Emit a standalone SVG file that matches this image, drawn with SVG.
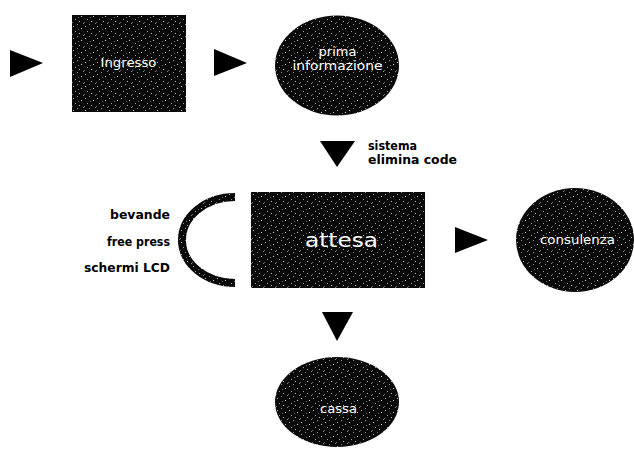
<svg xmlns="http://www.w3.org/2000/svg" width="634" height="455" viewBox="0 0 634 455">
<defs>
<pattern id="speckle" width="12" height="12" patternUnits="userSpaceOnUse">
<rect width="12" height="12" fill="#0a0a0a"/>
<rect x="1" y="2" width="1" height="1" fill="#fff" opacity="0.7"/>
<rect x="5" y="0" width="1" height="1" fill="#fff" opacity="0.5"/>
<rect x="9" y="4" width="1" height="1" fill="#fff" opacity="0.8"/>
<rect x="3" y="7" width="1" height="1" fill="#fff" opacity="0.6"/>
<rect x="7" y="9" width="1" height="1" fill="#fff" opacity="0.7"/>
<rect x="11" y="11" width="1" height="1" fill="#fff" opacity="0.5"/>
<rect x="0" y="10" width="1" height="1" fill="#fff" opacity="0.4"/>
<rect x="6" y="5" width="1" height="1" fill="#fff" opacity="0.4"/>
</pattern>
</defs>
<style>
.node{fill:url(#speckle);}
.lbl{font-family:"DejaVu Sans",sans-serif;fill:#fff;text-anchor:middle;}
.side{font-family:"DejaVu Sans",sans-serif;font-weight:bold;font-size:11.5px;fill:#000;}
.arrow{fill:#000;}
</style>
<rect width="634" height="455" fill="#fff"/>
<g id="connectors">
<polygon class="arrow" points="10,50 43,63 10,77"/>
<polygon class="arrow" points="214,49 247,63 214,76"/>
<polygon class="arrow" points="320,141 355,141 337,167"/>
<polygon class="arrow" points="455,227 488,240 455,253"/>
<polygon class="arrow" points="322,312 353,312 337,341"/>
</g>
<g id="ingresso">
<rect class="node" x="72" y="15" width="114" height="97"/>
<text class="lbl" x="128.5" y="67" font-size="12" textLength="56" lengthAdjust="spacingAndGlyphs">Ingresso</text>
</g>
<g id="prima-informazione">
<ellipse class="node" cx="337" cy="65.5" rx="62" ry="50"/>
<text class="lbl" x="337.5" y="56" font-size="12" textLength="38" lengthAdjust="spacingAndGlyphs">prima</text>
<text class="lbl" x="337.5" y="70" font-size="12" textLength="90" lengthAdjust="spacingAndGlyphs">informazione</text>
</g>
<g id="sistema-label">
<text class="side" x="368" y="150" textLength="49" lengthAdjust="spacingAndGlyphs">sistema</text>
<text class="side" x="368" y="164" textLength="89" lengthAdjust="spacingAndGlyphs">elimina code</text>
</g>
<g id="attesa">
<rect class="node" x="251" y="192" width="174" height="96"/>
<text class="lbl" x="341.5" y="247" font-size="20" textLength="73" lengthAdjust="spacingAndGlyphs">attesa</text>
</g>
<g id="servizi">
<path d="M235,197 A53,43 0 0 0 235,283" fill="none" stroke="url(#speckle)" stroke-width="8"/>
<text class="side" x="170" y="219" text-anchor="end" textLength="60" lengthAdjust="spacingAndGlyphs">bevande</text>
<text class="side" x="170" y="246" text-anchor="end" textLength="63" lengthAdjust="spacingAndGlyphs">free press</text>
<text class="side" x="170" y="272" text-anchor="end" textLength="86" lengthAdjust="spacingAndGlyphs">schermi LCD</text>
</g>
<g id="consulenza">
<ellipse class="node" cx="575" cy="240" rx="59" ry="52"/>
<text class="lbl" x="577.5" y="244" font-size="12" textLength="75" lengthAdjust="spacingAndGlyphs">consulenza</text>
</g>
<g id="cassa">
<ellipse class="node" cx="337" cy="402" rx="62" ry="45"/>
<text class="lbl" x="338.5" y="413" font-size="12" textLength="37" lengthAdjust="spacingAndGlyphs">cassa</text>
</g>
</svg>
